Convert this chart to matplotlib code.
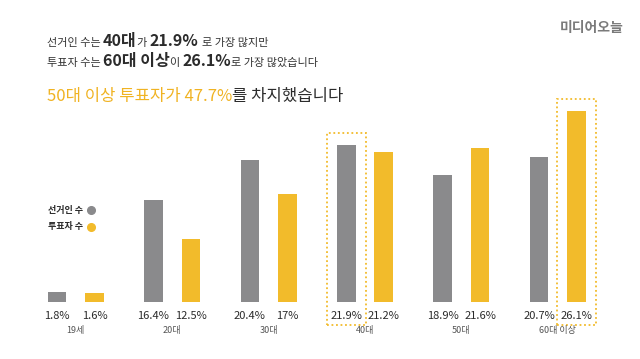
import matplotlib
matplotlib.use("Agg")
import numpy as np
import matplotlib.pyplot as plt
from matplotlib.patches import Rectangle
from matplotlib.transforms import IdentityTransform, blended_transform_factory

plt.rcParams['font.family'] = ['Noto Sans CJK KR', 'DejaVu Sans']

categories = ['19세', '20대', '30대', '40대', '50대', '60대 이상']
electors = [1.8, 16.4, 20.4, 21.9, 18.9, 20.7]
voters = [1.6, 12.5, 17.0, 21.2, 21.6, 26.1]
elector_labels = ['1.8%', '16.4%', '20.4%', '21.9%', '18.9%', '20.7%']
voter_labels = ['1.6%', '12.5%', '17%', '21.2%', '21.6%', '26.1%']

GRAY = '#8a8a8c'
GOLD = '#f2bb2b'
GOLD_TXT = '#f0b323'
DARK = '#2b2b2b'

W, H = 640, 359
fig = plt.figure(figsize=(W / 100, H / 100), dpi=100)
fig.patch.set_facecolor('white')

# the infographic uses a non-uniform (piecewise) value scale
scale_v = np.array([0.0, 1.8, 12.5, 21.9, 26.1, 30.0])
scale_p = np.array([0.0, 10.6, 63.3, 157.0, 191.0, 222.6])

def fwd(v):
    return np.interp(v, scale_v, scale_p)

def inv(p):
    return np.interp(p, scale_p, scale_v)

spacing = 96.4
c0 = 75.8
left_px = c0 - spacing / 2
bottom_px = 302.3
ax = fig.add_axes([left_px / W, 1 - bottom_px / H, 6 * spacing / W, scale_p[-1] / H])
ax.set_yscale('function', functions=(fwd, inv))
ax.set_xlim(-0.5, 5.5)
ax.set_ylim(0, scale_v[-1])
ax.axis('off')

off = 0.1945
bw = 0.192
xs = list(range(len(categories)))
ax.bar([x - off for x in xs], electors, width=bw, color=GRAY, edgecolor='none')
ax.bar([x + off for x in xs], voters, width=bw, color=GOLD, edgecolor='none')

for x, lab in zip(xs, elector_labels):
    ax.annotate(lab, (x - off, 0), xytext=(0, -10), textcoords='offset points',
                ha='center', va='center', fontsize=8, color=DARK)
for x, lab in zip(xs, voter_labels):
    ax.annotate(lab, (x + off, 0), xytext=(0, -10), textcoords='offset points',
                ha='center', va='center', fontsize=8, color=DARK)
for x, c in zip(xs, categories):
    ax.annotate(c, (x, 0), xytext=(0, -20), textcoords='offset points',
                ha='center', va='center', fontsize=6.5, color='#555555')

# dotted highlight boxes (x in data, y in pixels above the axes bottom)
btrans = blended_transform_factory(ax.transData, ax.transAxes)
bx_w = 0.40
def hbox(xc, value):
    top = (fwd(value) + 12) / scale_p[-1]
    bot = -22.7 / scale_p[-1]
    r = Rectangle((xc - bx_w / 2, bot), bx_w, top - bot, fill=False, transform=btrans,
                  edgecolor=GOLD, linestyle=(0, (1, 1.5)), linewidth=1.3, clip_on=False)
    ax.add_patch(r)
hbox(3 - off, electors[3])
hbox(5 + off, voters[5])

# legend
fig.text(48 / W, 1 - 210 / H, '선거인 수', fontsize=6.5, color=DARK, weight='bold', va='center')
fig.text(48 / W, 1 - 227 / H, '투표자 수', fontsize=6.5, color=DARK, weight='bold', va='center')
fig.add_artist(plt.Line2D([91 / W], [1 - 210 / H], marker='o', markersize=5.5, color=GRAY, transform=fig.transFigure))
fig.add_artist(plt.Line2D([91 / W], [1 - 227 / H], marker='o', markersize=5.5, color=GOLD, transform=fig.transFigure))

renderer = fig.canvas.get_renderer()

def rich(x, y, parts):
    # x, y in pixels from top-left; y is baseline
    cx = x
    for s, size, weight, color, gap in parts:
        t = fig.text(cx, H - y, s, fontsize=size, weight=weight, color=color,
                     va='baseline', ha='left', transform=IdentityTransform())
        bb = t.get_window_extent(renderer)
        cx = bb.x1 + gap

rich(47, 46, [
    ('선거인 수는', 8, 'normal', '#333333', 2),
    ('40대', 11.5, 'bold', DARK, 0),
    ('가', 8, 'normal', '#333333', 3),
    ('21.9%', 11.5, 'bold', DARK, 3),
    ('로 가장 많지만', 8, 'normal', '#333333', 0),
])
rich(47, 66, [
    ('투표자 수는', 8, 'normal', '#333333', 2),
    ('60대 이상', 11.5, 'bold', DARK, 0),
    ('이', 8, 'normal', '#333333', 3),
    ('26.1%', 11.5, 'bold', DARK, 0),
    ('로 가장 많았습니다', 8, 'normal', '#333333', 0),
])
rich(47, 101, [
    ('50대 이상 투표자가 47.7%', 12, 'normal', GOLD_TXT, 0),
    ('를 차지했습니다', 12, 'normal', DARK, 0),
])

# logo
fig.text(560 / W, 1 - 32 / H, '미디어오늘', fontsize=10, color='#7a7a7a', weight='bold',
         style='italic', va='baseline', ha='left')

fig.savefig('out.png', dpi=100, facecolor='white')
